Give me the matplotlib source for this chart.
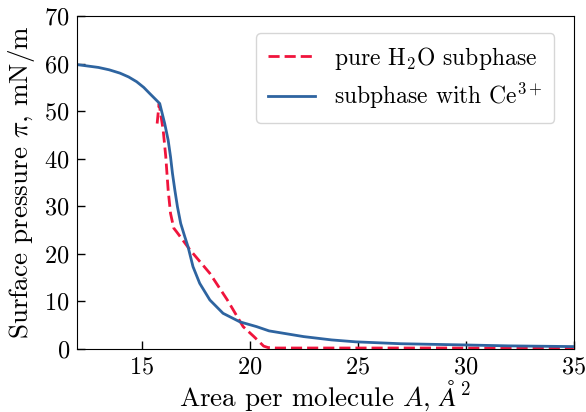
import numpy as np
import matplotlib
matplotlib.use("Agg")
import matplotlib.pyplot as plt

plt.rcParams['font.family'] = 'serif'
plt.rcParams['font.serif'] = ['cmr10', 'DejaVu Serif']
plt.rcParams['mathtext.fontset'] = 'cm'
plt.rcParams['axes.unicode_minus'] = False
plt.rcParams['axes.formatter.use_mathtext'] = True

# pure water subphase (red dashed)
area_h2o = [15.72, 15.81, 16.0, 16.12, 16.23, 16.34, 16.49, 16.61, 16.84, 17.23,
            18.16, 18.97, 19.7, 20.2, 20.65, 20.85, 21.2, 25.0, 30.0, 35.0]
pi_h2o = [47.4, 51.6, 46.0, 40.4, 33.4, 28.5, 25.4, 24.7, 23.3, 20.9,
          15.9, 10.3, 4.7, 2.6, 0.6, 0.3, 0.2, 0.2, 0.2, 0.2]

# subphase with Ce3+ (blue)
area_ce = [12.0, 12.5, 13.0, 13.5, 14.0, 14.4, 14.77, 15.1, 15.38, 15.6,
           15.84, 16.07, 16.23, 16.34, 16.43, 16.54, 16.66, 16.81, 17.0, 17.15,
           17.38, 17.69, 18.16, 18.77, 19.55, 20.32, 20.9, 22.5, 23.8, 24.91,
           27.0, 29.9, 32.0, 35.0]
pi_ce = [59.8, 59.5, 59.2, 58.7, 58.0, 57.2, 56.2, 55.0, 53.7, 52.7,
         51.6, 47.4, 43.9, 40.4, 36.9, 33.4, 29.9, 26.4, 23.6, 21.5,
         17.3, 13.8, 10.3, 7.5, 5.7, 4.7, 3.8, 2.6, 1.9, 1.5,
         1.1, 0.85, 0.65, 0.5]

fig = plt.figure(figsize=(5.86, 4.12), dpi=100)
ax = fig.add_axes([0.131, 0.153, 0.848, 0.808])

ax.plot(area_h2o, pi_h2o, '--', color='#f0143c', lw=2.0, dashes=(4, 1.8),
        label=r'pure H$_2$O subphase')
ax.plot(area_ce, pi_ce, '-', color='#2e64a0', lw=2.0,
        label=r'subphase with Ce$^{3+}$')

ax.set_xlim(12, 35)
ax.set_ylim(0, 70)
ax.set_xticks([15, 20, 25, 30, 35])
ax.set_yticks(np.arange(0, 71, 10))
ax.tick_params(direction='in', length=6, width=1, labelsize=17.5, pad=5)

ax.set_xlabel(r'Area per molecule $A$, $\AA^2$', fontsize=19.5)
ax.xaxis.label.set_va('baseline')
ax.xaxis.set_label_coords(0.5, -0.172)
ax.set_ylabel(r'Surface pressure $\pi$, mN/m', fontsize=19.5, labelpad=5)

ax.legend(loc='upper right', fontsize=17, handlelength=2.0,
          borderpad=0.5, labelspacing=0.4, bbox_to_anchor=(0.985, 0.985))

fig.savefig('out.png', dpi=100)
